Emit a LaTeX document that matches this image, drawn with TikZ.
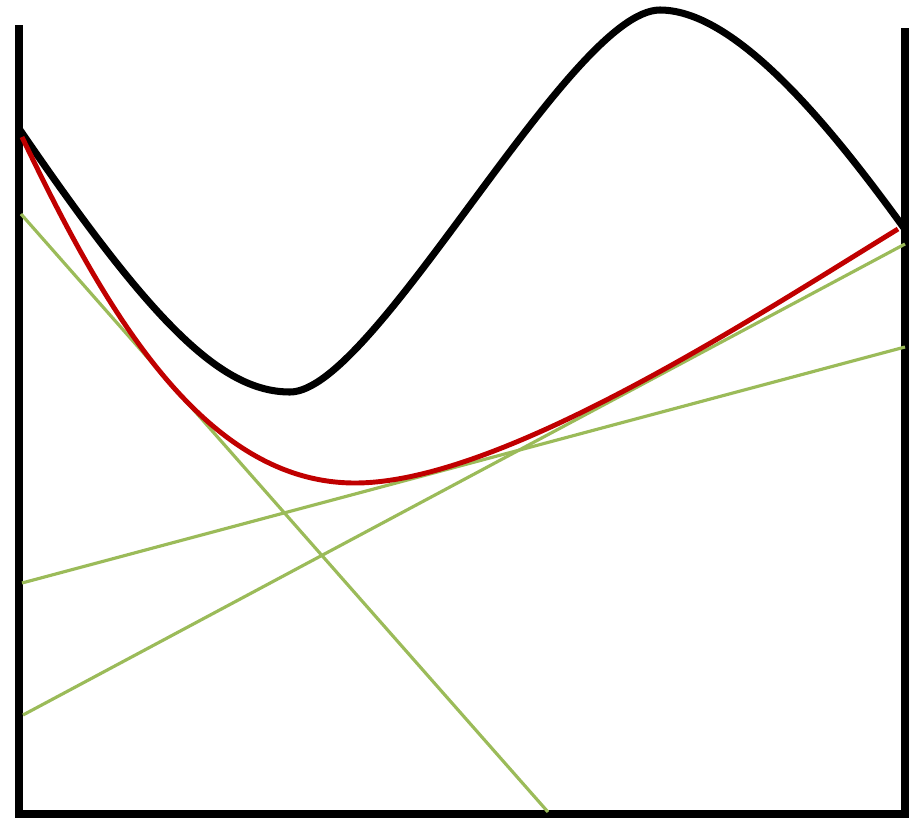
\documentclass[tikz,border=0pt]{standalone}
\usepackage{tikz}

\definecolor{curvered}{RGB}{192,0,0}
\definecolor{tangentgreen}{RGB}{155,187,89}

\tikzset{
    axisline/.style={line width=2pt,black},
    costcurve/.style={line width=2pt,black},
    boundcurve/.style={line width=1.4pt,curvered},
    tangentline/.style={line width=0.9pt,tangentgreen}
}

\begin{document}
\begin{tikzpicture}[x=0.01cm,y=-0.01cm]
        \useasboundingbox (0,0) rectangle (909,818);
        \draw[axisline] (19,25) -- (19,814) -- (905,814) -- (905,28);
        \draw[tangentline] (21,214) -- (548,812);
        \draw[tangentline] (23,715) -- (905,244);
        \draw[tangentline] (22,583) -- (905,347);
        \draw[costcurve] (20,130) .. controls (150,320) and (220,392) .. (290,392)
            .. controls (375,392) and (570,10) .. (660,10)
            .. controls (740,10) and (840,140) .. (904,228);
        \draw[boundcurve] (22,137) .. controls (100,300) and (200,483) .. (355,483)
            .. controls (500,483) and (750,320) .. (898,229);
    \end{tikzpicture}
\end{document}
